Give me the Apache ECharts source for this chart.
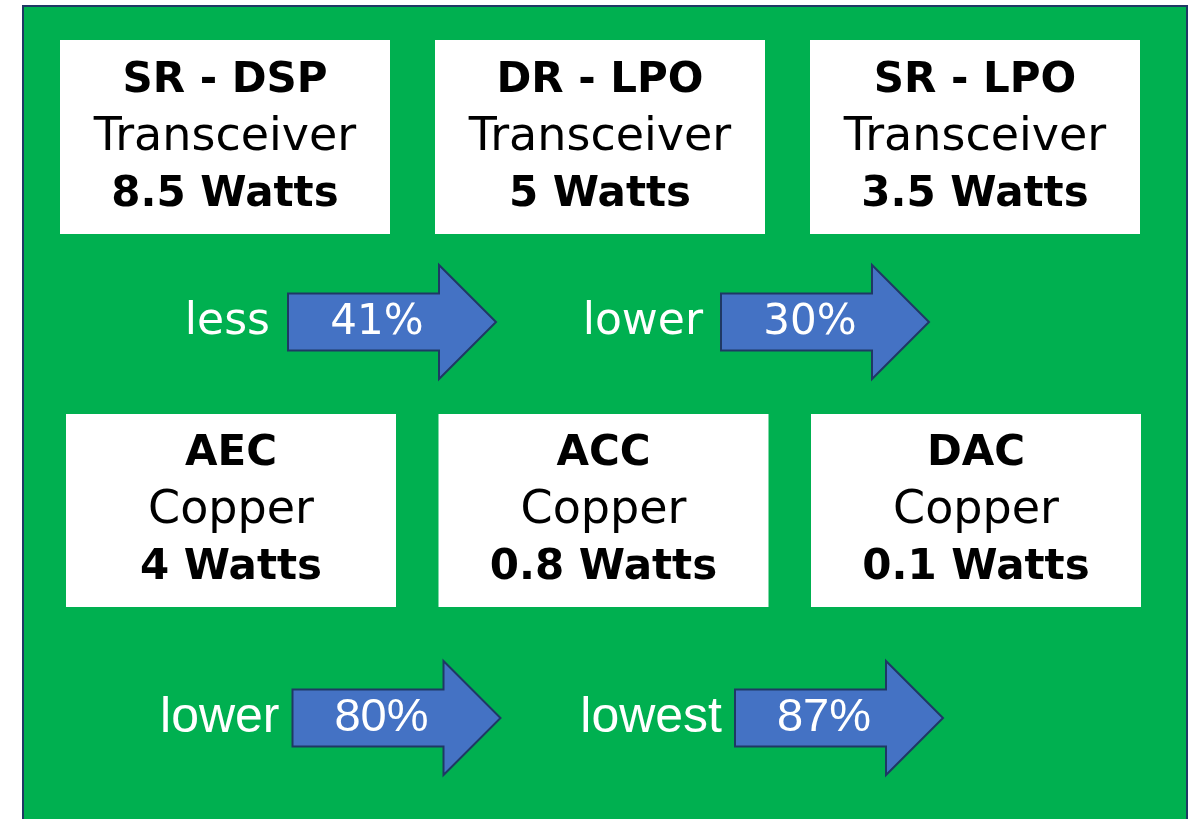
<!DOCTYPE html>
<html>
<head>
<meta charset="utf-8">
<script src="https://cdn.jsdelivr.net/npm/echarts@6/dist/echarts.min.js"></script>
<style>html,body{margin:0;padding:0;background:#fff}#c{width:1194px;height:819px}</style>
</head>
<body>
<div id="c"></div>
<script>
// ---- data ----
const topNames = ['SR - DSP', 'DR - LPO', 'SR - LPO'];
const topTypes = ['Transceiver', 'Transceiver', 'Transceiver'];
const topWatts = [8.5, 5, 3.5];
const bottomNames = ['AEC', 'ACC', 'DAC'];
const bottomTypes = ['Copper', 'Copper', 'Copper'];
const bottomWatts = [4, 0.8, 0.1];
const topArrowWords = ['less', 'lower'];
const topArrowPcts = [41, 30];
const bottomArrowWords = ['lower', 'lowest'];
const bottomArrowPcts = [80, 87];

// ---- styles ----
const GREEN = '#00B050', NAVY = '#1F3864', ARROW = '#4472C4';
const BOX_W = 330;
const boxFont = 'DejaVu Sans';

function boxRender(names, types, watts) {
  return function (params, api) {
    const i = params.dataIndex;
    const c = api.coord([api.value(0), api.value(1)]);
    const h = api.size([0, 1])[1];
    return {
      type: 'group',
      children: [
        { type: 'rect', shape: { x: c[0] - BOX_W / 2, y: c[1] - h / 2, width: BOX_W, height: h },
          style: { fill: '#fff' } },
        { type: 'text', x: c[0], y: c[1] + 1,
          style: {
            text: '{b|' + names[i] + '}\n{r|' + types[i] + '}\n{b|' + watts[i] + ' Watts}',
            align: 'center', verticalAlign: 'middle',
            rich: {
              b: { fontFamily: boxFont, fontWeight: 'bold', fontSize: 42, lineHeight: 57, fill: '#000' },
              r: { fontFamily: boxFont, fontWeight: 'normal', fontSize: 46, lineHeight: 57, fill: '#000' }
            }
          } }
      ]
    };
  };
}

function arrowRender(words, pcts, cfg) {
  return function (params, api) {
    const i = params.dataIndex;
    const c = api.coord([api.value(0), api.value(1)]);
    const cx = c[0], cy = c[1];
    const L = cx - 104, H = cx + 47, T = cx + 104;
    const bh = 28.5, hh = 57;
    return {
      type: 'group',
      children: [
        { type: 'polygon',
          shape: { points: [[L, cy - bh], [H, cy - bh], [H, cy - hh], [T, cy], [H, cy + hh], [H, cy + bh], [L, cy + bh]] },
          style: { fill: ARROW, stroke: NAVY, lineWidth: 2 } },
        { type: 'text', x: L - cfg.gap, y: cy + cfg.dy,
          style: { text: words[i], align: 'right', verticalAlign: 'middle', fill: '#fff',
                   fontFamily: cfg.font, fontSize: cfg.wordSize } },
        { type: 'text', x: L + 89, y: cy + cfg.dy,
          style: { text: pcts[i] + '%', align: 'center', verticalAlign: 'middle', fill: '#fff',
                   fontFamily: cfg.font, fontSize: cfg.pctSize } }
      ]
    };
  };
}

const chart = echarts.init(document.getElementById('c'), null, { renderer: 'canvas' });
const hiddenCat = (data, gi) => ({ type: 'category', data: data, gridIndex: gi, show: false });

chart.setOption({
  backgroundColor: '#fff',
  animation: false,
  graphic: [{
    type: 'rect', z: -10, left: 22, top: 5,
    shape: { width: 1164, height: 830 },
    style: { fill: GREEN, stroke: NAVY, lineWidth: 2 }
  }],
  grid: [
    { left: 37.5, width: 1125, top: 40, height: 194 },
    { left: 175.5, width: 866, top: 265, height: 114 },
    { left: 44.75, width: 1117.5, top: 414, height: 193 },
    { left: 175.25, width: 885, top: 661, height: 114 }
  ],
  xAxis: [
    hiddenCat(topNames, 0),
    hiddenCat(topArrowWords, 1),
    hiddenCat(bottomNames, 2),
    hiddenCat(bottomArrowWords, 3)
  ],
  yAxis: [
    hiddenCat(['row'], 0),
    hiddenCat(['row'], 1),
    hiddenCat(['row'], 2),
    hiddenCat(['row'], 3)
  ],
  series: [
    { type: 'custom', xAxisIndex: 0, yAxisIndex: 0, clip: false,
      data: topNames.map((n, i) => [i, 0]), renderItem: boxRender(topNames, topTypes, topWatts) },
    { type: 'custom', xAxisIndex: 1, yAxisIndex: 1, clip: false,
      data: topArrowPcts.map((p, i) => [i, 0]),
      renderItem: arrowRender(topArrowWords, topArrowPcts, { font: 'DejaVu Sans', wordSize: 44, pctSize: 42, gap: 18, dy: 1 }) },
    { type: 'custom', xAxisIndex: 2, yAxisIndex: 2, clip: false,
      data: bottomNames.map((n, i) => [i, 0]), renderItem: boxRender(bottomNames, bottomTypes, bottomWatts) },
    { type: 'custom', xAxisIndex: 3, yAxisIndex: 3, clip: false,
      data: bottomArrowPcts.map((p, i) => [i, 0]),
      renderItem: arrowRender(bottomArrowWords, bottomArrowPcts, { font: 'Liberation Sans', wordSize: 50, pctSize: 47, gap: 13, dy: 0 }) }
  ]
});
</script>
</body>
</html>
